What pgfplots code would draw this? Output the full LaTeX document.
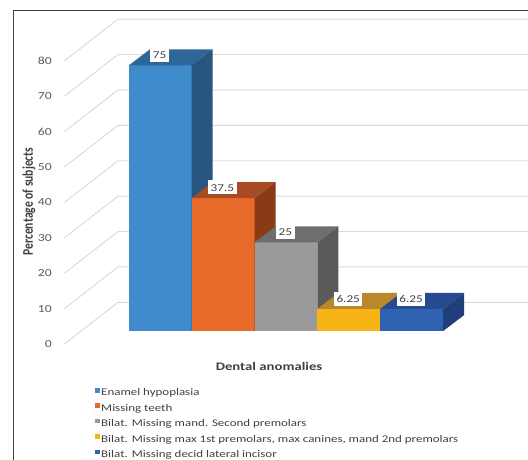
\documentclass[border=0pt]{standalone}
\usepackage{pgfplots}
\pgfplotsset{compat=1.18}
\usepackage{fontspec}
\setmainfont{Carlito}[FakeStretch=1.27]
\newfontfamily\plainfont{Carlito}
\definecolor{fA}{HTML}{3F8BCB}\definecolor{tA}{HTML}{2E6699}\definecolor{sA}{HTML}{27557F}
\definecolor{fB}{HTML}{E86A28}\definecolor{tB}{HTML}{A84B23}\definecolor{sB}{HTML}{8B3A18}
\definecolor{fC}{HTML}{9A9A9A}\definecolor{tC}{HTML}{6E6E6E}\definecolor{sC}{HTML}{5A5A5A}
\definecolor{fD}{HTML}{F8B417}\definecolor{tD}{HTML}{B8882B}\definecolor{sD}{HTML}{8C6A1F}
\definecolor{fE}{HTML}{2F62B0}\definecolor{tE}{HTML}{26498F}\definecolor{sE}{HTML}{203E7A}
\definecolor{gridc}{HTML}{D9D9D9}
\definecolor{txt}{HTML}{404040}
\definecolor{tick}{HTML}{595959}
\begin{document}
\begin{tikzpicture}
\begin{axis}[
  scale only axis, width=528pt, height=460pt,
  xmin=-2.046, xmax=6.348, ymin=-36.44, ymax=93.50,
  axis lines=none, xtick=\empty, ytick=\empty,
  clip=false,
  legend cell align=left,
  legend image code/.code={\fill[#1,draw=none] (0pt,0.9pt) rectangle (4.8pt,5.5pt);},
  legend style={at={(axis cs:-0.536,-15.9)}, anchor=north west, draw=none, fill=none,
    font=\fontsize{10.2}{12}\selectfont\color{txt}, inner sep=0pt, row sep=3.4pt,
    nodes={inner xsep=1.2pt, inner ysep=0pt, text height=8.5pt, text depth=3.5pt}},
]
% back wall and side wall gridlines
\pgfplotsinvokeforeach{0,10,...,80}{
  \draw[gridc, line width=0.9pt] (axis cs:-1.021,{#1-3.67}) -- (axis cs:-0.170,{#1+8.1}) -- (axis cs:6.348,{#1+8.1});
  \node[anchor=east, text=tick, font=\fontsize{10.8}{12}\selectfont, inner sep=0pt] at (axis cs:-1.219,{#1-3.67}) {#1};
}
% bar 1
\addplot[ybar, bar width=1, bar shift=0pt, fill=fA, draw=none] coordinates {(0.5,75)};
\addlegendentry{Enamel hypoplasia}
\addplot[fill=tA, draw=none, forget plot] coordinates {(0,75)(1,75)(1.334,79.52)(0.334,79.52)} -- cycle;
\addplot[fill=sA, draw=none, forget plot] coordinates {(1,0)(1.334,4.52)(1.334,79.52)(1,75)} -- cycle;
% bar 2
\addplot[ybar, bar width=1, bar shift=0pt, fill=fB, draw=none] coordinates {(1.5,37.5)};
\addlegendentry{Missing teeth}
\addplot[fill=tB, draw=none, forget plot] coordinates {(1,37.5)(2,37.5)(2.334,42.02)(1.334,42.02)} -- cycle;
\addplot[fill=sB, draw=none, forget plot] coordinates {(2,0)(2.334,4.52)(2.334,42.02)(2,37.5)} -- cycle;
% bar 3
\addplot[ybar, bar width=1, bar shift=0pt, fill=fC, draw=none] coordinates {(2.5,25)};
\addlegendentry{Bilat. Missing mand. Second premolars}
\addplot[fill=tC, draw=none, forget plot] coordinates {(2,25)(3,25)(3.334,29.52)(2.334,29.52)} -- cycle;
\addplot[fill=sC, draw=none, forget plot] coordinates {(3,0)(3.334,4.52)(3.334,29.52)(3,25)} -- cycle;
% bar 4
\addplot[ybar, bar width=1, bar shift=0pt, fill=fD, draw=none] coordinates {(3.5,6.25)};
\addlegendentry{Bilat. Missing max 1st premolars, max canines, mand 2nd premolars}
\addplot[fill=tD, draw=none, forget plot] coordinates {(3,6.25)(4,6.25)(4.334,10.77)(3.334,10.77)} -- cycle;
\addplot[fill=sD, draw=none, forget plot] coordinates {(4,0)(4.334,4.52)(4.334,10.77)(4,6.25)} -- cycle;
% bar 5
\addplot[ybar, bar width=1, bar shift=0pt, fill=fE, draw=none] coordinates {(4.5,6.25)};
\addlegendentry{Bilat. Missing decid lateral incisor}
\addplot[fill=tE, draw=none, forget plot] coordinates {(4,6.25)(5,6.25)(5.334,10.77)(4.334,10.77)} -- cycle;
\addplot[fill=sE, draw=none, forget plot] coordinates {(5,0)(5.334,4.52)(5.334,10.77)(5,6.25)} -- cycle;
% value labels
\tikzset{vl/.style={fill=white, text=txt, font=\fontsize{10.4}{12}\selectfont, inner xsep=2.5pt, inner ysep=0pt, text height=8pt, text depth=0pt, minimum height=14pt}}
\node[vl] at (axis cs:0.49,78.1) {75};
\node[vl] at (axis cs:1.49,40.6) {37.5};
\node[vl] at (axis cs:2.49,28.0) {25};
\node[vl] at (axis cs:3.49,9.1) {6.25};
\node[vl] at (axis cs:4.49,9.1) {6.25};
% axis titles
\node[font=\bfseries\fontsize{11.6}{14}\selectfont, text=txt] at (axis cs:2.231,-9.89) {Dental anomalies};
\node[text=txt, inner sep=0pt] at (axis cs:-1.585,36.58) {\scalebox{1.27}[1]{\rotatebox{90}{\plainfont\bfseries\fontsize{11.6}{14}\selectfont Percentage of subjects}}};
% frame
\draw[color=txt, line width=1pt] (axis cs:-1.835,-36.44) -- (axis cs:-1.835,90.40) -- (axis cs:6.348,90.40);
\end{axis}
\pgfresetboundingbox
\useasboundingbox (current axis.south west) rectangle (current axis.north east);
\end{tikzpicture}
\end{document}
